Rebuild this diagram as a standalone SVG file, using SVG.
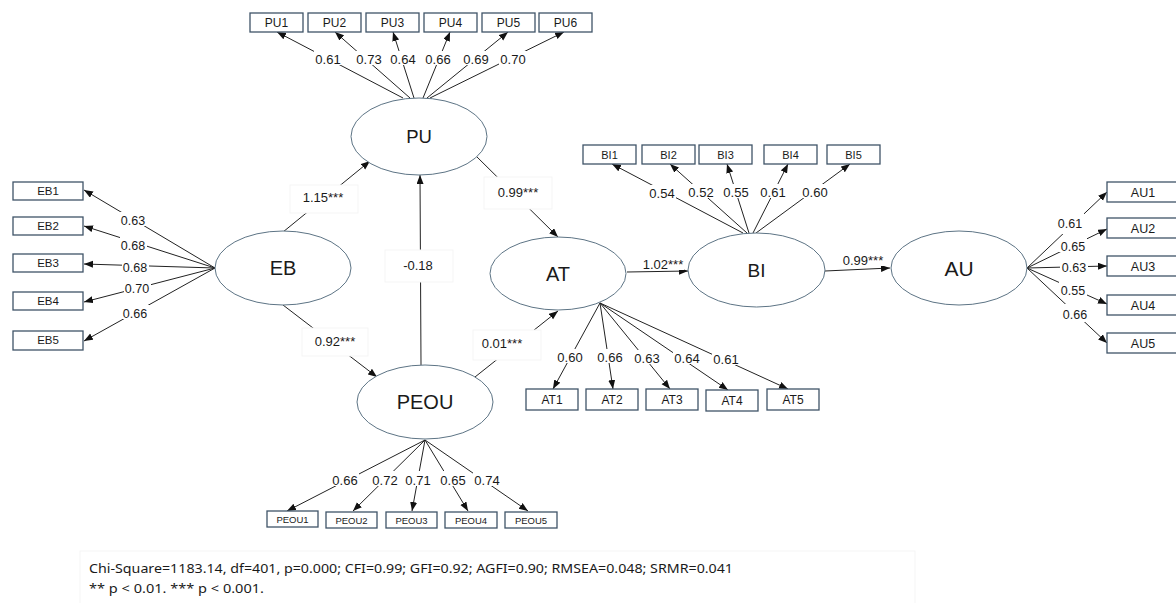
<svg xmlns="http://www.w3.org/2000/svg" width="1176" height="603" viewBox="0 0 1176 603">
<defs>
<marker id="arr" markerWidth="10" markerHeight="8" refX="9" refY="3.5" orient="auto" markerUnits="userSpaceOnUse">
<path d="M0,0 L9,3.5 L0,7 z" fill="#111"/>
</marker>
<style>
.c{stroke:#222;stroke-width:1;fill:none;marker-end:url(#arr)}
.lat{fill:#fff;stroke:#5d7485;stroke-width:1}
.box{fill:#fff;stroke:#3f5468;stroke-width:1.3}
.bg{fill:#fff;stroke:none}
.pbg{fill:#fff;stroke:#f5f5f5;stroke-width:1}
.t{font-family:"Liberation Sans",Arial,sans-serif;fill:#1a1a1a;text-anchor:middle}
.ld{font-size:13px}
.pl{font-size:13px}
.lt{font-size:20px}
.bx{font-size:12px}
.ft{font-family:"Noto Sans","Open Sans",sans-serif;font-size:13px;fill:#1a1a1a}
</style>
</defs>
<rect width="1176" height="603" fill="#fff"/>

<g id="connectors">
<line class="c" x1="403" y1="98" x2="277" y2="32"/>
<line class="c" x1="410" y1="98" x2="335" y2="32"/>
<line class="c" x1="414" y1="98" x2="393" y2="32"/>
<line class="c" x1="423" y1="98" x2="450" y2="32"/>
<line class="c" x1="427" y1="98" x2="508" y2="32"/>
<line class="c" x1="430" y1="98" x2="564" y2="32"/>
<line class="c" x1="215" y1="268" x2="84" y2="190"/>
<line class="c" x1="215" y1="268" x2="84" y2="226"/>
<line class="c" x1="215" y1="268" x2="84" y2="264"/>
<line class="c" x1="215" y1="268" x2="84" y2="302"/>
<line class="c" x1="215" y1="268" x2="84" y2="341"/>
<line class="c" x1="600" y1="303" x2="553" y2="389"/>
<line class="c" x1="600" y1="303" x2="613" y2="389"/>
<line class="c" x1="600" y1="303" x2="670" y2="389"/>
<line class="c" x1="600" y1="303" x2="728" y2="390"/>
<line class="c" x1="600" y1="303" x2="788" y2="389"/>
<line class="c" x1="743" y1="233" x2="612" y2="164"/>
<line class="c" x1="747" y1="233" x2="670" y2="164"/>
<line class="c" x1="749" y1="233" x2="727" y2="164"/>
<line class="c" x1="753" y1="233" x2="788" y2="164"/>
<line class="c" x1="756" y1="233" x2="850" y2="164"/>
<line class="c" x1="1027" y1="268" x2="1107" y2="192"/>
<line class="c" x1="1027" y1="268" x2="1107" y2="229"/>
<line class="c" x1="1027" y1="268" x2="1107" y2="266"/>
<line class="c" x1="1027" y1="268" x2="1107" y2="304"/>
<line class="c" x1="1027" y1="268" x2="1107" y2="343"/>
<line class="c" x1="425" y1="440" x2="287" y2="511"/>
<line class="c" x1="425" y1="440" x2="353" y2="511"/>
<line class="c" x1="425" y1="440" x2="412" y2="511"/>
<line class="c" x1="425" y1="440" x2="468" y2="511"/>
<line class="c" x1="425" y1="440" x2="528" y2="511"/>
<line class="c" x1="283" y1="232" x2="370" y2="161"/>
<line class="c" x1="283" y1="305" x2="377" y2="377"/>
<line class="c" x1="421" y1="365" x2="420" y2="175"/>
<line class="c" x1="475" y1="155" x2="558" y2="237"/>
<line class="c" x1="475" y1="377" x2="558" y2="311"/>
<line class="c" x1="627" y1="272" x2="688" y2="271"/>
<line class="c" x1="825" y1="271" x2="890" y2="268"/>

<g class="t ld">
<rect class="bg" x="314" y="51" width="28" height="14"/><text x="328" y="63.5">0.61</text>
<rect class="bg" x="355" y="51" width="28" height="14"/><text x="369" y="63.5">0.73</text>
<rect class="bg" x="389" y="51" width="28" height="14"/><text x="403" y="63.5">0.64</text>
<rect class="bg" x="424" y="51" width="28" height="14"/><text x="438" y="63.5">0.66</text>
<rect class="bg" x="462" y="51" width="28" height="14"/><text x="476" y="63.5">0.69</text>
<rect class="bg" x="499" y="51" width="28" height="14"/><text x="513" y="63.5">0.70</text>

<rect class="bg" x="120" y="212" width="27" height="14"/><text x="133" y="224.5" font-size="12.5">0.63</text>
<rect class="bg" x="120" y="237" width="27" height="14"/><text x="133" y="249.5" font-size="12.5">0.68</text>
<rect class="bg" x="122" y="259" width="27" height="14"/><text x="135" y="271.5" font-size="12.5">0.68</text>
<rect class="bg" x="124" y="280" width="27" height="14"/><text x="137" y="292.5" font-size="12.5">0.70</text>
<rect class="bg" x="122" y="305" width="27" height="14"/><text x="135" y="317.5" font-size="12.5">0.66</text>

<rect class="bg" x="556" y="349" width="28" height="14"/><text x="570" y="361.5">0.60</text>
<rect class="bg" x="596" y="349" width="28" height="14"/><text x="610" y="361.5">0.66</text>
<rect class="bg" x="633" y="350" width="28" height="14"/><text x="647" y="362.5">0.63</text>
<rect class="bg" x="673" y="350" width="28" height="14"/><text x="687" y="362.5">0.64</text>
<rect class="bg" x="712" y="351" width="28" height="14"/><text x="726" y="363.5">0.61</text>

<rect class="bg" x="648" y="185" width="28" height="14"/><text x="662" y="197.5">0.54</text>
<rect class="bg" x="687" y="184" width="28" height="14"/><text x="701" y="196.5">0.52</text>
<rect class="bg" x="722" y="184" width="28" height="14"/><text x="736" y="196.5">0.55</text>
<rect class="bg" x="759" y="184" width="28" height="14"/><text x="773" y="196.5">0.61</text>
<rect class="bg" x="801" y="184" width="28" height="14"/><text x="815" y="196.5">0.60</text>

<rect class="bg" x="1056" y="212" width="28" height="22"/><text x="1070" y="227.5" font-size="12.5">0.61</text>
<rect class="bg" x="1059" y="238" width="28" height="14"/><text x="1073" y="250.5" font-size="12.5">0.65</text>
<rect class="bg" x="1060" y="259" width="28" height="14"/><text x="1074" y="271.5" font-size="12.5">0.63</text>
<rect class="bg" x="1059" y="282" width="28" height="14"/><text x="1073" y="294.5" font-size="12.5">0.55</text>
<rect class="bg" x="1061" y="304" width="28" height="18"/><text x="1075" y="318.5" font-size="12.5">0.66</text>

<rect class="bg" x="331" y="471" width="28" height="15"/><text x="345" y="484.5">0.66</text>
<rect class="bg" x="371" y="471" width="28" height="15"/><text x="385" y="484.5">0.72</text>
<rect class="bg" x="404" y="471" width="28" height="15"/><text x="418" y="484.5">0.71</text>
<rect class="bg" x="439" y="471" width="28" height="15"/><text x="453" y="484.5">0.65</text>
<rect class="bg" x="473" y="471" width="28" height="15"/><text x="487" y="484.5">0.74</text>
</g>

<g class="t pl">
<rect class="pbg" x="290" y="185" width="68" height="28"/><text x="323" y="202">1.15***</text>
<rect class="pbg" x="302" y="328" width="66" height="28"/><text x="335" y="346">0.92***</text>
<rect class="pbg" x="385" y="250" width="68" height="32"/><text x="418" y="270">-0.18</text>
<rect class="pbg" x="484" y="177" width="68" height="32"/><text x="518" y="197">0.99***</text>
<rect class="pbg" x="473" y="330" width="68" height="30"/><text x="502" y="348">0.01***</text>
<rect class="bg" x="642" y="258" width="42" height="12"/><text x="663" y="269">1.02***</text>
<rect class="bg" x="842" y="254" width="42" height="12"/><text x="863" y="265">0.99***</text>
</g>
</g>

<g id="PU"><ellipse class="lat" cx="419" cy="136.5" rx="68" ry="38.5"/><text class="t" x="419" y="143" font-size="18.5">PU</text></g>
<g id="EB"><ellipse class="lat" cx="283" cy="268" rx="68" ry="37"/><text class="t lt" x="283" y="275">EB</text></g>
<g id="AT"><ellipse class="lat" cx="558" cy="273.5" rx="68" ry="36.5"/><text class="t lt" x="558" y="281">AT</text></g>
<g id="PEOU"><ellipse class="lat" cx="425" cy="402" rx="68" ry="37"/><text class="t lt" x="425" y="409">PEOU</text></g>
<g id="BI"><ellipse class="lat" cx="756.5" cy="270" rx="68.5" ry="37"/><text class="t" x="756.5" y="277" font-size="19">BI</text></g>
<g id="AU"><ellipse class="lat" cx="959" cy="268" rx="68" ry="37"/><text class="t" x="959" y="276" font-size="21">AU</text></g>

<g id="PU1"><rect class="box" x="250" y="13" width="53" height="19"/><text class="t bx" x="276.5" y="27">PU1</text></g>
<g id="PU2"><rect class="box" x="308" y="13" width="53" height="19"/><text class="t bx" x="334.5" y="27">PU2</text></g>
<g id="PU3"><rect class="box" x="366" y="13" width="53" height="19"/><text class="t bx" x="392.5" y="27">PU3</text></g>
<g id="PU4"><rect class="box" x="424" y="13" width="53" height="19"/><text class="t bx" x="450.5" y="27">PU4</text></g>
<g id="PU5"><rect class="box" x="482" y="13" width="53" height="19"/><text class="t bx" x="508.5" y="27">PU5</text></g>
<g id="PU6"><rect class="box" x="539" y="13" width="53" height="19"/><text class="t bx" x="565.5" y="27">PU6</text></g>

<g id="EB1"><rect class="box" x="13" y="182" width="70" height="18"/><text class="t" font-size="11.5" x="48" y="195">EB1</text></g>
<g id="EB2"><rect class="box" x="13" y="217" width="70" height="18"/><text class="t" font-size="11.5" x="48" y="230">EB2</text></g>
<g id="EB3"><rect class="box" x="13" y="254" width="70" height="18"/><text class="t" font-size="11.5" x="48" y="267">EB3</text></g>
<g id="EB4"><rect class="box" x="13" y="292" width="70" height="18"/><text class="t" font-size="11.5" x="48" y="305">EB4</text></g>
<g id="EB5"><rect class="box" x="13" y="331" width="70" height="19"/><text class="t" font-size="11.5" x="48" y="344">EB5</text></g>

<g id="AT1"><rect class="box" x="526" y="389" width="52" height="21"/><text class="t bx" x="552" y="404">AT1</text></g>
<g id="AT2"><rect class="box" x="586" y="389" width="52" height="21"/><text class="t bx" x="612" y="404">AT2</text></g>
<g id="AT3"><rect class="box" x="646" y="389" width="52" height="21"/><text class="t bx" x="672" y="404">AT3</text></g>
<g id="AT4"><rect class="box" x="706" y="390" width="52" height="21"/><text class="t bx" x="732" y="405">AT4</text></g>
<g id="AT5"><rect class="box" x="767" y="389" width="52" height="21"/><text class="t bx" x="793" y="404">AT5</text></g>

<g id="BI1"><rect class="box" x="583" y="145" width="53" height="19"/><text class="t" font-size="11" x="609.5" y="158.5">BI1</text></g>
<g id="BI2"><rect class="box" x="642" y="145" width="53" height="19"/><text class="t" font-size="11" x="668.5" y="158.5">BI2</text></g>
<g id="BI3"><rect class="box" x="699" y="145" width="53" height="19"/><text class="t" font-size="11" x="725.5" y="158.5">BI3</text></g>
<g id="BI4"><rect class="box" x="764" y="145" width="53" height="19"/><text class="t" font-size="11" x="790.5" y="158.5">BI4</text></g>
<g id="BI5"><rect class="box" x="827" y="145" width="53" height="19"/><text class="t" font-size="11" x="853.5" y="158.5">BI5</text></g>

<g id="AU1"><rect class="box" x="1107" y="182" width="72" height="20"/><text class="t" font-size="12.5" x="1143" y="196.5">AU1</text></g>
<g id="AU2"><rect class="box" x="1107" y="218" width="72" height="20"/><text class="t" font-size="12.5" x="1143" y="232.5">AU2</text></g>
<g id="AU3"><rect class="box" x="1107" y="256" width="72" height="20"/><text class="t" font-size="12.5" x="1143" y="270.5">AU3</text></g>
<g id="AU4"><rect class="box" x="1107" y="295" width="72" height="20"/><text class="t" font-size="12.5" x="1143" y="309.5">AU4</text></g>
<g id="AU5"><rect class="box" x="1107" y="333" width="72" height="20"/><text class="t" font-size="12.5" x="1143" y="347.5">AU5</text></g>

<g id="PEOU1"><rect class="box" x="267" y="511" width="51" height="16"/><text class="t" font-size="9.5" x="292.5" y="522.5">PEOU1</text></g>
<g id="PEOU2"><rect class="box" x="326" y="512" width="51" height="16"/><text class="t" font-size="9.5" x="351.5" y="523.5">PEOU2</text></g>
<g id="PEOU3"><rect class="box" x="386" y="512" width="51" height="16"/><text class="t" font-size="9.5" x="411.5" y="523.5">PEOU3</text></g>
<g id="PEOU4"><rect class="box" x="445" y="512" width="52" height="16"/><text class="t" font-size="9.5" x="471" y="523.5">PEOU4</text></g>
<g id="PEOU5"><rect class="box" x="505" y="512" width="52" height="16"/><text class="t" font-size="9.5" x="531" y="523.5">PEOU5</text></g>

<g id="footer">
<rect x="80" y="551" width="835" height="60" fill="none" stroke="#f5f5f5" stroke-width="1"/>
<text class="ft" x="89" y="573" textLength="644" lengthAdjust="spacingAndGlyphs">Chi-Square=1183.14, df=401, p=0.000; CFI=0.99; GFI=0.92; AGFI=0.90; RMSEA=0.048; SRMR=0.041</text>
<text class="ft" x="89" y="593" textLength="175" lengthAdjust="spacingAndGlyphs">** p &lt; 0.01. *** p &lt; 0.001.</text>
</g>
</svg>
